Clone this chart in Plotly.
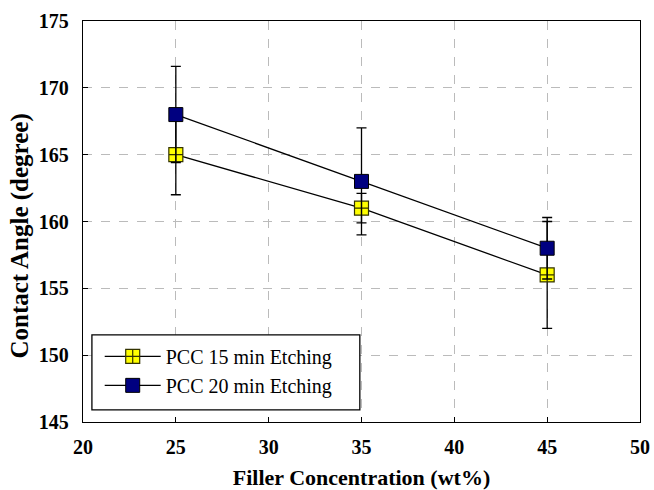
import plotly.graph_objects as go

x_vals = [25, 35, 45]
pcc15 = [165, 161, 156]
pcc15_err_plus = [3, 1.1, 4]
pcc15_err_minus = [3, 1.1, 4]
pcc20 = [168, 163, 158]
pcc20_err_plus = [3.6, 4, 2.3]
pcc20_err_minus = [3.6, 4, 2.3]

x_ticks = [20, 25, 30, 35, 40, 45, 50]
y_ticks = [145, 150, 155, 160, 165, 170, 175]

font_family = "'Liberation Serif', 'DejaVu Serif', serif"

fig = go.Figure()
fig.add_trace(go.Scatter(
    x=x_vals, y=pcc15, mode="lines+markers", name="PCC 15 min Etching",
    line=dict(color="black", width=1.3),
    marker=dict(symbol="square-cross", size=14, color="#ffff00",
                line=dict(color="#333300", width=1.2)),
    error_y=dict(type="data", symmetric=False, array=pcc15_err_plus,
                 arrayminus=pcc15_err_minus, color="black", thickness=1.3, width=5),
))
fig.add_trace(go.Scatter(
    x=x_vals, y=pcc20, mode="lines+markers", name="PCC 20 min Etching",
    line=dict(color="black", width=1.3),
    marker=dict(symbol="square", size=14, color="#000080",
                line=dict(color="black", width=1)),
    error_y=dict(type="data", symmetric=False, array=pcc20_err_plus,
                 arrayminus=pcc20_err_minus, color="black", thickness=1.3, width=5),
))

axis_common = dict(
    showline=True, linecolor="black", linewidth=1.3, mirror=True,
    ticks="inside", ticklen=5, tickcolor="black",
    showgrid=True, gridcolor="#bbbbbb", griddash="dash", gridwidth=1,
    zeroline=False, automargin=False,
    tickfont=dict(family=font_family, size=20, color="black", weight="bold"),
)

# legend frame (drawn as a rectangle in paper coordinates)
fig.add_shape(type="rect", xref="paper", yref="paper",
              x0=0.016, x1=0.497, y0=0.03, y1=0.2175,
              line=dict(color="black", width=1.3), fillcolor="white", layer="above")

# y-axis title as annotation (slightly below centre as in the reference)
fig.add_annotation(text="<b>Contact Angle (degree)</b>", textangle=-90,
                   xref="paper", yref="paper", x=0, y=0.4625,
                   xanchor="center", yanchor="middle", xshift=-63, showarrow=False,
                   font=dict(family=font_family, size=25, color="black"))

fig.update_layout(
    width=654, height=490,
    margin=dict(l=83, r=14, t=21, b=68),
    paper_bgcolor="white", plot_bgcolor="white",
    font=dict(family=font_family),
    showlegend=True,
    legend=dict(
        x=0.030, y=0.1275, xanchor="left", yanchor="middle",
        bgcolor="rgba(0,0,0,0)", borderwidth=0,
        font=dict(family=font_family, size=20, color="black"),
        itemwidth=56, tracegroupgap=0,
    ),
    xaxis=dict(range=[20, 50], tickvals=x_ticks, ticklabelstandoff=7,
               title=dict(text="Filler Concentration (wt%)", standoff=16,
                          font=dict(family=font_family, size=22, color="black", weight="bold")),
               **axis_common),
    yaxis=dict(range=[145, 175], tickvals=y_ticks, ticklabelstandoff=9,
               **axis_common),
)

fig.write_html("out.html")
